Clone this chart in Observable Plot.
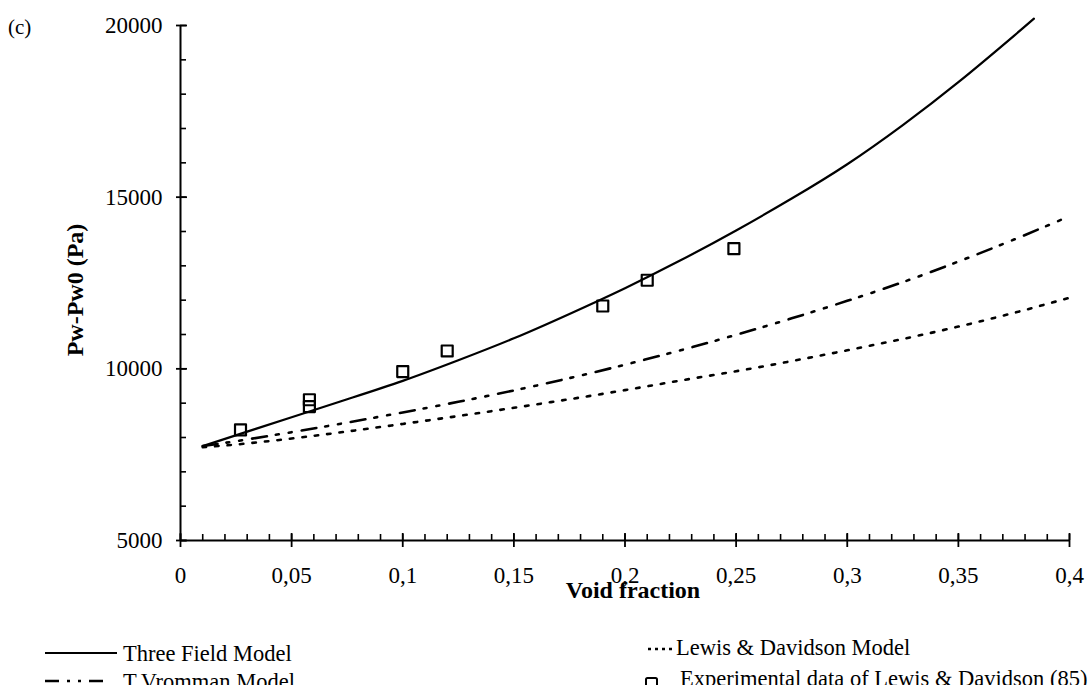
<!DOCTYPE html>
<html><head><meta charset="utf-8">
<script src="https://cdn.jsdelivr.net/npm/d3@7"></script>
<script src="https://cdn.jsdelivr.net/npm/@observablehq/plot@0.6"></script>
<style>html,body{margin:0;padding:0;background:#fff;overflow:hidden} svg{display:block}</style>
</head><body><div id="chart"></div>
<script>
// ---- data ----
const threeX = [0.01,0.03,0.05,0.075,0.1,0.125,0.15,0.175,0.2,0.225,0.25,0.275,0.3,0.325,0.35,0.375,0.384];
const threeY = [7750,8170,8590,9115,9650,10250,10890,11600,12350,13160,14030,14960,15960,17100,18350,19700,20200];

const vromX = [0.01,0.025,0.05,0.075,0.1,0.125,0.15,0.175,0.2,0.225,0.25,0.275,0.3,0.325,0.35,0.375,0.4];
const vromY = [7750,7893,8155,8435,8730,9040,9370,9730,10120,10540,10990,11470,11980,12525,13125,13765,14445];

const lewisX = [0.01,0.025,0.05,0.075,0.1,0.125,0.15,0.175,0.2,0.225,0.25,0.275,0.3,0.325,0.35,0.375,0.4];
const lewisY = [7720,7795,7970,8175,8395,8625,8865,9115,9380,9660,9930,10225,10540,10870,11230,11630,12070];

const expX = [0.027,0.058,0.058,0.1,0.12,0.19,0.21,0.249];
const expY = [8220,9100,8900,9920,10520,11830,12580,13500];

const xMajor = [0,0.05,0.1,0.15,0.2,0.25,0.3,0.35,0.4];
const xMinor = d3.range(0, 41).map(i => i / 100);
const yMajor = [5000,10000,15000,20000];
const yMinor = d3.range(5000, 20001, 1000);

const legendNames = ["Three Field Model","T.Vromman Model","Lewis & Davidson Model","Experimental data of Lewis & Davidson (85)"];
const xTitle = "Void fraction";
const yTitle = "Pw-Pw0 (Pa)";
const panelLabel = "(c)";

// ---- build ----
const rows = (xs, ys) => xs.map((x, i) => ({x, y: ys[i]}));
const three = rows(threeX, threeY), vrom = rows(vromX, vromY), lewis = rows(lewisX, lewisY), exp = rows(expX, expY);
const fmtX = d => String(d).replace(".", ",");
const serif = "'Liberation Serif', 'Times New Roman', serif";
const dashDot = "15,9,3,10,3,10";
const dotted = "3.5,9";
const blank = () => "";

const svg = Plot.plot({
  width: 1089, height: 685,
  marginLeft: 180, marginRight: 20, marginTop: 25, marginBottom: 145,
  style: {fontFamily: serif, fontSize: "23px", color: "#000", background: "#fff", overflow: "visible"},
  x: {domain: [0, 0.4]},
  y: {domain: [5000, 20000]},
  marks: [
    Plot.axisX({ticks: xMinor, tickSize: -6, tickFormat: blank, strokeWidth: 1.6, label: null}),
    Plot.axisX({ticks: xMajor, tickSize: -7, tickFormat: blank, strokeWidth: 1.8, label: null}),
    Plot.axisX({ticks: xMajor, tickSize: 7, tickFormat: blank, strokeWidth: 1.8, label: null}),
    Plot.axisX({ticks: xMajor, tickSize: 0, tickPadding: 26, tickFormat: fmtX, fontSize: 23, label: null}),
    Plot.axisY({ticks: yMinor, tickSize: -6, tickFormat: blank, strokeWidth: 1.6, label: null}),
    Plot.axisY({ticks: yMajor, tickSize: -7, tickFormat: blank, strokeWidth: 1.8, label: null}),
    Plot.axisY({ticks: yMajor, tickSize: 4, tickFormat: blank, strokeWidth: 1.8, label: null}),
    Plot.axisY({ticks: yMajor, tickSize: 0, tickPadding: 18, tickFormat: d3.format("d"), fontSize: 23, label: null}),
    Plot.ruleX([0], {stroke: "#000", strokeWidth: 2}),
    Plot.ruleY([5000], {stroke: "#000", strokeWidth: 2}),
    Plot.line(lewis, {x: "x", y: "y", stroke: "#000", strokeWidth: 2.6, strokeDasharray: dotted, curve: "natural"}),
    Plot.line(vrom, {x: "x", y: "y", stroke: "#000", strokeWidth: 2.6, strokeDasharray: dashDot, curve: "natural"}),
    Plot.line(three, {x: "x", y: "y", stroke: "#000", strokeWidth: 2.2, curve: "natural"}),
    Plot.dot(exp, {x: "x", y: "y", symbol: "square", r: 6.2, stroke: "#000", strokeWidth: 2.2, fill: "none", strokeLinejoin: "round"})
  ]
});

const s = d3.select(svg);
const g = s.append("g").attr("font-family", serif).attr("fill", "#000").attr("text-anchor", "start");
g.append("text").attr("x", 8).attr("y", 34).attr("font-size", 21).attr("text-anchor", "start").text(panelLabel);
g.append("text").attr("x", 633).attr("y", 598).attr("text-anchor", "middle").attr("font-size", 24).attr("font-weight", "bold").text(xTitle);
g.append("text").attr("transform", "translate(83,290) rotate(-90)").attr("text-anchor", "middle").attr("font-size", 24).attr("font-weight", "bold").text(yTitle);

// legend
const lg = g.append("g").attr("font-size", 22.5).attr("text-anchor", "start");
lg.append("line").attr("x1", 45).attr("x2", 117).attr("y1", 653).attr("y2", 653).attr("stroke", "#000").attr("stroke-width", 2);
lg.append("text").attr("x", 123).attr("y", 661).text(legendNames[0]);
lg.append("line").attr("x1", 45).attr("x2", 117).attr("y1", 681).attr("y2", 681).attr("stroke", "#000").attr("stroke-width", 2.4).attr("stroke-dasharray", "14,8,3,8,3,8,14");
lg.append("text").attr("x", 123).attr("y", 689).text(legendNames[1]);
lg.append("line").attr("x1", 648).attr("x2", 673).attr("y1", 649).attr("y2", 649).attr("stroke", "#000").attr("stroke-width", 2.4).attr("stroke-dasharray", "3,4");
lg.append("text").attr("x", 676).attr("y", 655).text(legendNames[2]);
lg.append("rect").attr("x", 646).attr("y", 678).attr("width", 11).attr("height", 11).attr("rx", 1.5).attr("fill", "none").attr("stroke", "#000").attr("stroke-width", 2);
lg.append("text").attr("x", 680).attr("y", 686).text(legendNames[3]);

document.getElementById("chart").append(svg);
</script>
</body></html>
